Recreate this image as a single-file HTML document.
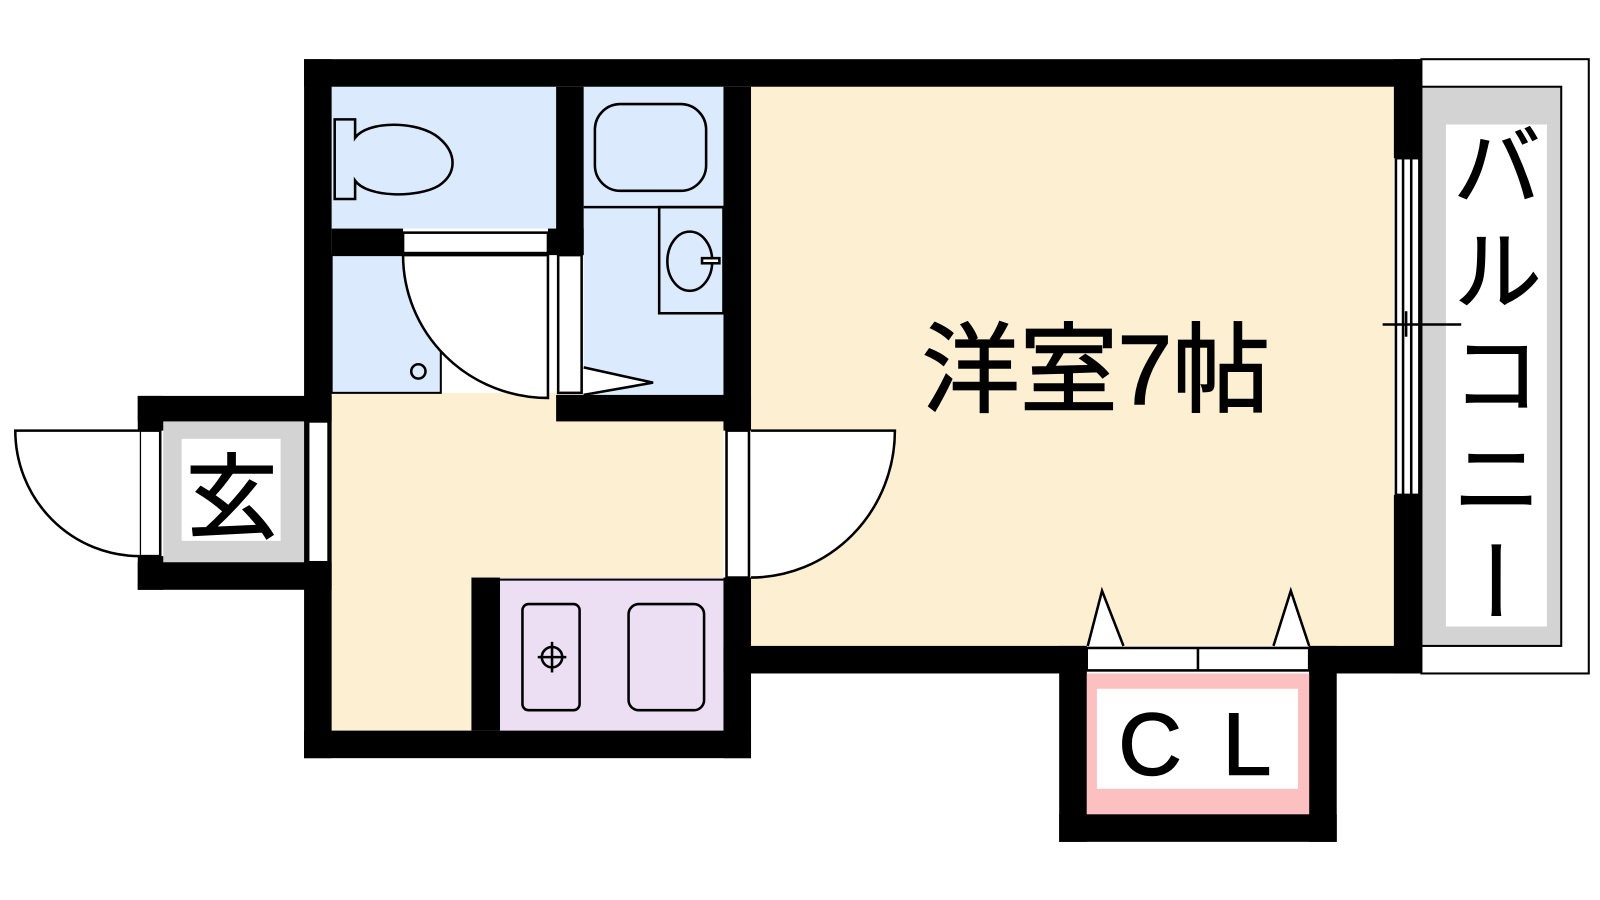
<!DOCTYPE html>
<html><head><meta charset="utf-8"><style>
html,body{margin:0;padding:0;background:#fff;width:1600px;height:900px;overflow:hidden;position:relative}
svg{display:block}
text{font-family:"Liberation Sans","Noto Sans CJK JP",sans-serif;fill:#000}
.v{position:absolute;left:1448px;top:120px;width:98px;height:640px;white-space:nowrap;writing-mode:vertical-rl;font-family:"Noto Sans CJK JP",sans-serif;font-size:90px;line-height:98px;letter-spacing:14px;color:#000;-webkit-text-stroke:1px #000}
</style></head><body>
<svg width="1600" height="900" viewBox="0 0 1568 882" preserveAspectRatio="none" xmlns="http://www.w3.org/2000/svg">
<rect x="736" y="85" width="630" height="548" fill="#fdf0d2"/>
<rect x="325" y="385" width="384" height="331" fill="#fdf0d2"/>
<rect x="325" y="85" width="220" height="139" fill="#dbebfd"/>
<rect x="325" y="250" width="107" height="135" fill="#dbebfd" stroke="#000" stroke-width="2"/>
<rect x="572" y="85" width="137" height="302" fill="#dbebfd"/>
<rect x="490" y="566" width="219" height="150" fill="#ecdff3"/>
<line x1="490" y1="568" x2="709" y2="568" stroke="#000" stroke-width="2"/>
<rect x="160" y="413" width="138" height="138" fill="#d3d3d3"/>
<rect x="178" y="430" width="97" height="100" fill="#fff"/>
<rect x="1393" y="58" width="164" height="602" fill="#fff" stroke="#000" stroke-width="2"/>
<rect x="1393" y="85" width="137" height="548" fill="#d3d3d3" stroke="#000" stroke-width="2"/>
<rect x="1417" y="122" width="99" height="492" fill="#fff"/>
<rect x="1065" y="660" width="218" height="138" fill="#fcc0c0"/>
<rect x="1075" y="675" width="197" height="98" fill="#fff"/>
<g fill="#000">
<rect x="298" y="58" width="1095" height="27"/>
<rect x="298" y="58" width="27" height="685"/>
<rect x="298" y="716" width="438" height="27"/>
<rect x="709" y="85" width="27" height="337"/>
<rect x="709" y="566" width="27" height="177"/>
<rect x="462" y="566" width="28" height="150"/>
<rect x="545" y="387" width="191" height="26"/>
<rect x="545" y="85" width="27" height="165"/>
<rect x="325" y="224" width="70" height="26"/>
<rect x="537" y="224" width="35" height="26"/>
<rect x="709" y="633" width="356" height="27"/>
<rect x="1283" y="633" width="110" height="27"/>
<rect x="1366" y="58" width="27" height="97"/>
<rect x="1366" y="485" width="27" height="175"/>
<rect x="1038" y="633" width="27" height="192"/>
<rect x="1283" y="633" width="27" height="192"/>
<rect x="1038" y="798" width="272" height="27"/>
<rect x="135" y="388" width="190" height="25"/>
<rect x="135" y="551" width="190" height="27"/>
<rect x="135" y="388" width="25" height="34"/>
<rect x="135" y="545" width="25" height="33"/>
</g>
<g fill="none" stroke="#000" stroke-width="2.5">
<rect x="137" y="422" width="20" height="123" fill="#fff"/>
<path d="M137,422 L15,422 A122,123 0 0 0 137,545" fill="#fff"/>
<rect x="302" y="413" width="20" height="138" fill="#fff"/>
<rect x="712" y="422" width="22" height="144" fill="#fff"/>
<path d="M736,422 L877,422 A141,144 0 0 1 736,566" fill="#fff"/>
<rect x="395" y="228" width="142" height="20" fill="#fff"/>
<path d="M395,250 A142,140 0 0 0 537,390 L537,250 Z" fill="#fff"/>
<rect x="547" y="250" width="23" height="135" fill="#fff"/>
<path d="M572,360 L640,375 L572,387" fill="#fff"/>
<circle cx="410" cy="364" r="7"/>
<path d="M328,117 H348 V135 C360,118 410,118 430,135 C448,150 448,170 430,182 C410,194 360,194 348,177 V195 H328 Z"/>
<rect x="583" y="102" width="109" height="85" rx="25"/>
<line x1="572" y1="203" x2="709" y2="203"/>
<rect x="646" y="203" width="63" height="104"/>
<ellipse cx="676" cy="256" rx="22" ry="29"/>
<rect x="688" y="253" width="17" height="5" fill="#fff"/>
<rect x="512" y="592" width="56" height="104" rx="6"/>
<circle cx="541" cy="644" r="10"/>
<line x1="541" y1="629" x2="541" y2="659"/><line x1="527" y1="644" x2="555" y2="644"/>
<rect x="616" y="592" width="74" height="104" rx="10"/>
<rect x="1368" y="155" width="23" height="330" fill="#fff"/>
<line x1="1375" y1="155" x2="1375" y2="485"/>
<line x1="1383" y1="155" x2="1383" y2="485"/>
<line x1="1355" y1="318" x2="1432" y2="318"/>
<line x1="1378" y1="305" x2="1378" y2="330"/>
<rect x="1065" y="635" width="218" height="22" fill="#fff"/>
<line x1="1174" y1="635" x2="1174" y2="657"/>
<path d="M1066,633 L1080,579 L1101,633" fill="#fff"/>
<path d="M1248,633 L1265,579 L1283,633" fill="#fff"/>
</g>
<g stroke="#000" stroke-width="1.5">
<text x="1074" y="396" font-size="96" text-anchor="middle">洋室7帖</text>
<text x="227" y="520" font-size="90" text-anchor="middle">玄</text>
<text x="1127" y="759" font-size="86" text-anchor="middle">C</text>
<text x="1222" y="759" font-size="86" text-anchor="middle">L</text>
</g>
</svg>
<div class="v">バルコニー</div>
</body></html>
